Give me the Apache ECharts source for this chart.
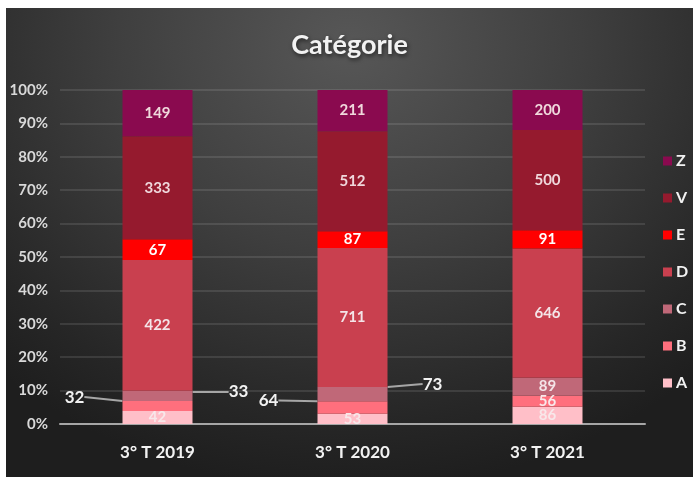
<!DOCTYPE html>
<html>
<head>
<meta charset="utf-8">
<script src="https://cdn.jsdelivr.net/npm/echarts@6/dist/echarts.min.js"></script>
<style>
html,body{margin:0;padding:0;background:#ffffff;width:693px;height:477px;overflow:hidden;}
#chart{position:absolute;left:6px;top:8px;width:687px;height:469px;
background:radial-gradient(ellipse 75% 95% at 50% 8%, #575757 0%, #3f3f3f 45%, #262626 85%, #1e1e1e 100%);}
</style>
</head>
<body>
<div id="chart"></div>
<script>
const categories = ['3° T 2019', '3° T 2020', '3° T 2021'];
const seriesNames = ['A', 'B', 'C', 'D', 'E', 'V', 'Z'];
const valuesA = [42, 53, 86];
const valuesB = [32, 64, 56];
const valuesC = [33, 73, 89];
const valuesD = [422, 711, 646];
const valuesE = [67, 87, 91];
const valuesV = [333, 512, 500];
const valuesZ = [149, 211, 200];
const yTicks = [0, 10, 20, 30, 40, 50, 60, 70, 80, 90, 100];

const allValues = [valuesA, valuesB, valuesC, valuesD, valuesE, valuesV, valuesZ];
const colors = ['#ffbfc8', '#ff6f7d', '#c06878', '#c9404f', '#ff0000', '#951a2e', '#8a0a4f'];
const labelColors = ['#f8e8ea', '#f8e8ea', '#f4e4e8', '#f4e4e8', '#ffffff', '#f0d8dc', '#f0d8dc'];

// labels drawn outside the bar with a leader line: [seriesIndex, dataIndex, dx, dy]
const outsideLabels = [[1, 0, -83, -9], [2, 0, 81, -4], [1, 1, -84, -7], [2, 1, 80, -10]];

const totals = categories.map((c, i) => allValues.reduce((s, arr) => s + arr[i], 0));

const fontFam = 'Lato, "Open Sans", sans-serif';

const series = seriesNames.map((name, si) => ({
  name: name,
  type: 'bar',
  stack: 'total',
  barWidth: 70,
  itemStyle: { color: colors[si] },
  label: {
    show: true,
    position: 'inside',
    color: labelColors[si],
    fontFamily: fontFam,
    fontWeight: 'bold',
    fontSize: 15,
    formatter: p => String(allValues[si][p.dataIndex])
  },
  labelLayout: function (params) {
    const o = outsideLabels.find(x => x[0] === params.seriesIndex && x[1] === params.dataIndex);
    if (o) return { dx: o[2], dy: o[3] };
    return {};
  },
  data: categories.map((c, i) => {
    const o = outsideLabels.find(x => x[0] === si && x[1] === i);
    const item = { value: allValues[si][i] / totals[i] * 100 };
    if (o) {
      item.label = { color: '#f2f2f2', fontSize: 17 };
      item.labelLine = { show: true, lineStyle: { color: '#a6a6a6', width: 2 } };
    }
    return item;
  })
}));

const chart = echarts.init(document.getElementById('chart'), null, { renderer: 'canvas' });
chart.setOption({
  backgroundColor: 'transparent',
  animation: false,
  title: {
    text: 'Catégorie',
    left: 'center',
    top: 19,
    textStyle: {
      color: '#f2f2f2', fontFamily: fontFam, fontWeight: 'bold', fontSize: 27,
      textShadowColor: 'rgba(0,0,0,0.6)', textShadowBlur: 4, textShadowOffsetX: 1, textShadowOffsetY: 2
    }
  },
  legend: {
    orient: 'vertical',
    left: 652,
    top: 140,
    itemGap: 21,
    itemWidth: 9,
    itemHeight: 9,
    icon: 'rect',
    data: ['Z', 'V', 'E', 'D', 'C', 'B', 'A'],
    textStyle: { color: '#f2f2f2', fontFamily: fontFam, fontWeight: 'bold', fontSize: 16, padding: [0, 0, 0, -1] }
  },
  grid: { left: 54, right: 48, top: 82, bottom: 53, containLabel: false },
  xAxis: {
    type: 'category',
    data: categories,
    axisTick: { show: false },
    axisLine: { lineStyle: { color: '#a6a6a6', width: 2 } },
    axisLabel: { color: '#f2f2f2', fontFamily: fontFam, fontWeight: 'bold', fontSize: 17, margin: 20 }
  },
  yAxis: {
    type: 'value',
    min: yTicks[0],
    max: yTicks[yTicks.length - 1],
    interval: yTicks[1] - yTicks[0],
    axisLine: { show: false },
    axisTick: { show: false },
    splitLine: { lineStyle: { color: 'rgba(255,255,255,0.14)', width: 1.5 } },
    axisLabel: { formatter: '{value}%', color: '#d9d9d9', fontFamily: fontFam, fontWeight: 'bold', fontSize: 15, margin: 12 }
  },
  series: series
});
</script>
</body>
</html>
